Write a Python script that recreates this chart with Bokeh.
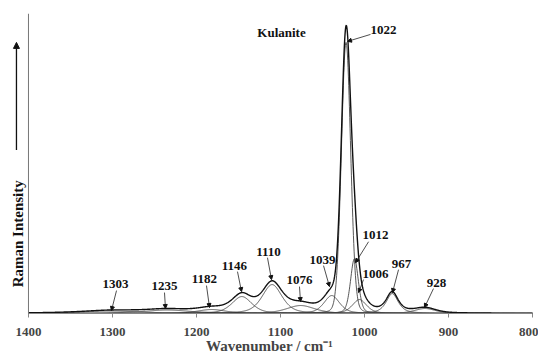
import numpy as np
from bokeh.plotting import figure
from bokeh.models import Range1d, FixedTicker, Label, Arrow, NormalHead, ColumnDataSource, LabelSet, Span
from bokeh.embed import file_html
from bokeh.resources import INLINE

# Band parameters
band_centers = [1303, 1235, 1182, 1146, 1110, 1076, 1039, 1022, 1012, 1006, 967, 928]
band_heights = [2.5, 3.5, 4, 17, 29, 8, 18, 272, 55, 14, 20, 5]
band_fwhm = [90, 70, 40, 28, 28, 40, 22, 13, 11, 20, 17, 30]
band_lorentz = [1, 1, 0.5, 0.5, 0.5, 0.5, 0.5, 0.1, 0.3, 0.5, 0.7, 0.5]

# Label annotations: text and the point on the curve each arrow marks
label_texts = ["1022", "1012", "1006", "967", "928", "1039", "1076", "1110", "1146", "1182", "1235", "1303"]
label_x = [977.4, 986.9, 986.9, 955.9, 914.3, 1050, 1077.4, 1114.3, 1154.8, 1190.5, 1238.1, 1296.4]
label_y = [284, 79, 40, 50, 31, 54, 34, 62, 48, 35, 28, 30]
tail_x = [992.9, 995.2, 1001.2, 959.5, 917.9, 1048.8, 1077.4, 1115.5, 1151.2, 1188.1, 1238.1, 1295.2]
tail_y = [280, 72, 34, 44, 25, 48, 27, 56, 42, 28, 21, 23]
head_x = [1020.2, 1010.7, 1007.1, 966.7, 928.6, 1041.7, 1076.2, 1110.7, 1146.4, 1184.5, 1236.9, 1301.2]
head_y = [273, 51, 21, 21, 6, 27, 12, 34, 22, 6, 5, 3]

x_ticks = [1400, 1300, 1200, 1100, 1000, 900, 800]

FONT = "Liberation Serif"

x = np.linspace(1400, 800, 1501)


def band(c, h, w, eta):
    g = np.exp(-4 * np.log(2) * ((x - c) / w) ** 2)
    l = 1.0 / (1.0 + (2 * (x - c) / w) ** 2)
    return h * (eta * l + (1 - eta) * g)


comps = [band(c, h, w, e) for c, h, w, e in zip(band_centers, band_heights, band_fwhm, band_lorentz)]
total = np.sum(comps, axis=0)

p = figure(width=538, height=356, output_backend="svg", toolbar_location=None,
           x_range=Range1d(1433.3, 792.9), y_range=Range1d(0, 301),
           min_border_left=0, min_border_right=0, min_border_top=13, min_border_bottom=0)
p.outline_line_color = None
p.grid.visible = False
p.background_fill_color = "white"
p.border_fill_color = "white"

for c in comps:
    p.line(x, c, line_color="#444444", line_width=0.9)
p.line(x, total, line_color="#111111", line_width=1.4)

# x axis
p.xaxis.ticker = FixedTicker(ticks=x_ticks)
p.xaxis.bounds = (1400, 800)
p.xaxis.axis_label = "Wavenumber / cm⁻¹"
p.xaxis.axis_label_text_font = FONT
p.xaxis.axis_label_text_font_style = "bold"
p.xaxis.axis_label_text_font_size = "15px"
p.xaxis.axis_label_standoff = -1
p.xaxis.major_label_text_font = FONT
p.xaxis.major_label_text_font_style = "bold"
p.xaxis.major_label_text_font_size = "13px"
p.xaxis.major_label_standoff = 10
p.xaxis.major_tick_in = 0
p.xaxis.major_tick_out = 4
p.xaxis.minor_tick_in = 0
p.xaxis.minor_tick_out = 0
p.xaxis.axis_line_color = "#888888"
p.xaxis.major_tick_line_color = "#888888"

# y axis: plain line at the left end of the wavenumber scale
p.yaxis.visible = False
p.add_layout(Span(location=1400, dimension="height", line_color="#777777", line_width=1))

# Peak labels with arrows
src = ColumnDataSource(dict(x=label_x, y=label_y, t=label_texts))
p.add_layout(LabelSet(x="x", y="y", text="t", source=src, text_font=FONT,
                      text_font_style="bold", text_font_size="13px",
                      text_align="center", text_baseline="middle", text_color="#111111"))
for x0, y0, x1, y1 in zip(tail_x, tail_y, head_x, head_y):
    p.add_layout(Arrow(x_start=x0, y_start=y0, x_end=x1, y_end=y1,
                       line_color="#222222", line_width=0.8,
                       end=NormalHead(size=4, fill_color="#111111", line_color="#111111")))

p.add_layout(Label(x=1098.8, y=282, text="Kulanite", text_font=FONT, text_font_style="bold",
                   text_font_size="13px", text_align="center", text_baseline="middle",
                   text_color="#111111"))

# y axis title with upward arrow
p.add_layout(Label(x=1411.9, y=80, text="Raman Intensity", angle=np.pi / 2, text_font=FONT,
                   text_font_style="bold", text_font_size="15px", text_align="center",
                   text_baseline="middle", text_color="#111111"))
p.add_layout(Arrow(x_start=1414.3, y_start=164, x_end=1414.3, y_end=272,
                   line_color="#111111", line_width=1.3,
                   end=NormalHead(size=6, fill_color="#111111", line_color="#111111")))

open("out.html", "w").write(file_html(p, INLINE))
